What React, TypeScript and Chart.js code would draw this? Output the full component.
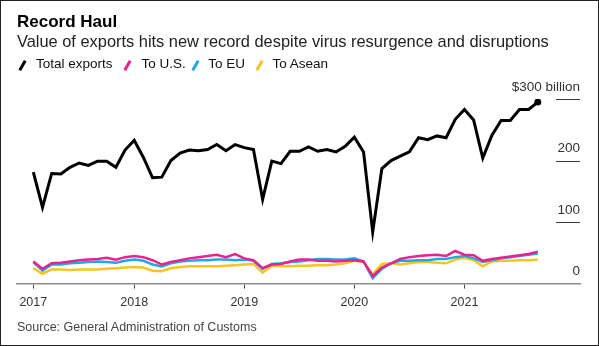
import React, { useEffect, useRef } from 'react';
import { Chart, registerables } from 'chart.js';

Chart.register(...registerables);

// Monthly, Jan 2017 .. Aug 2021 (US$ billion)
const months = [
  '2017-01','2017-02','2017-03','2017-04','2017-05','2017-06','2017-07','2017-08','2017-09','2017-10','2017-11','2017-12',
  '2018-01','2018-02','2018-03','2018-04','2018-05','2018-06','2018-07','2018-08','2018-09','2018-10','2018-11','2018-12',
  '2019-01','2019-02','2019-03','2019-04','2019-05','2019-06','2019-07','2019-08','2019-09','2019-10','2019-11','2019-12',
  '2020-01','2020-02','2020-03','2020-04','2020-05','2020-06','2020-07','2020-08','2020-09','2020-10','2020-11','2020-12',
  '2021-01','2021-02','2021-03','2021-04','2021-05','2021-06','2021-07','2021-08',
];

const totalExports = [
  181, 124, 179, 178, 189, 196, 192, 199, 199, 189, 217, 233,
  205, 172, 173, 200, 212, 217, 216, 218, 226, 216, 226, 221,
  218, 137, 199, 195, 215, 215, 222, 215, 218, 214, 223, 238,
  214, 84, 187, 200, 207, 214, 237, 234, 240, 237, 267, 283,
  266, 204, 241, 265, 265, 283, 283, 295,
];

const toUS = [
  36, 24, 33, 34, 36, 38, 39, 40, 42, 39, 43, 45,
  43, 38, 31, 35, 38, 41, 43, 45, 47, 43, 48, 41,
  38, 25, 31, 32, 36, 39, 39, 37, 37, 36, 37, 38,
  36, 12, 26, 33, 40, 43, 45, 46, 47, 45, 53, 47,
  46, 37, 40, 42, 44, 46, 48, 52,
];

const toEU = [
  35, 21, 31, 31, 33, 34, 35, 36, 35, 34, 37, 39,
  37, 31, 28, 33, 36, 37, 38, 38, 39, 39, 38, 39,
  37, 24, 32, 33, 35, 36, 38, 40, 40, 39, 39, 41,
  36, 9, 24, 33, 37, 37, 38, 38, 40, 40, 43, 45,
  41, 35, 38, 41, 43, 45, 47, 49,
];

const toAsean = [
  25, 16, 23, 23, 22, 23, 23, 23, 24, 25, 26, 27,
  26, 21, 20, 25, 27, 28, 28, 28, 28, 29, 30, 31,
  32, 18, 29, 28, 28, 29, 29, 30, 30, 31, 33, 37,
  35, 15, 32, 33, 31, 33, 35, 35, 34, 33, 39, 42,
  38, 28, 36, 37, 37, 38, 38, 39,
];

const seriesNames = ['Total exports', 'To U.S.', 'To EU', 'To Asean'];
const seriesColors = ['#000000', '#e8238f', '#23a7e3', '#f6c523'];

const xTickIndex = [0, 11, 23, 35, 47];
const xTickLabels = ['2017', '2018', '2019', '2020', '2021'];
const yTickValues = [0, 100, 200, 300];
const yTickLabels = ['0', '100', '200', '$300 billion'];

const FONT = '"Liberation Sans", Arial, Helvetica, sans-serif';

const toPoints = (arr: number[]) => arr.map((v, i) => ({ x: i, y: v }));

const shortGridLines = {
  id: 'shortGridLines',
  afterDraw(chart: any) {
    const y = chart.scales.y;
    const { right } = chart.chartArea;
    const ctx = chart.ctx;
    ctx.save();
    ctx.strokeStyle = '#3a3a3a';
    ctx.lineWidth = 1;
    y.ticks.forEach((t: any) => {
      if (t.value === 0) return;
      const py = Math.round(y.getPixelForValue(t.value)) + 0.5;
      ctx.beginPath();
      ctx.moveTo(right - 24, py);
      ctx.lineTo(right, py);
      ctx.stroke();
    });
    ctx.restore();
  },
};

export default function App() {
  const canvasRef = useRef<HTMLCanvasElement | null>(null);

  useEffect(() => {
    const canvas = canvasRef.current;
    if (!canvas) return;
    const lastIdx = totalExports.length - 1;
    const chart = new Chart(canvas, {
      type: 'line',
      data: {
        labels: months,
        datasets: [
          {
            label: seriesNames[0],
            data: toPoints(totalExports),
            borderColor: seriesColors[0],
            backgroundColor: seriesColors[0],
            borderWidth: 3,
            pointRadius: totalExports.map((_, i) => (i === lastIdx ? 3.5 : 0)),
            pointBackgroundColor: '#000',
            pointBorderWidth: 0,
            tension: 0,
          },
          {
            label: seriesNames[1],
            data: toPoints(toUS),
            borderColor: seriesColors[1],
            borderWidth: 2.5,
            pointRadius: 0,
            tension: 0,
          },
          {
            label: seriesNames[2],
            data: toPoints(toEU),
            borderColor: seriesColors[2],
            borderWidth: 2.5,
            pointRadius: 0,
            tension: 0,
          },
          {
            label: seriesNames[3],
            data: toPoints(toAsean),
            borderColor: seriesColors[3],
            borderWidth: 2.5,
            pointRadius: 0,
            tension: 0,
          },
        ],
      },
      options: {
        responsive: false,
        animation: false,
        events: [],
        layout: { padding: { left: 17, right: 11, top: 99, bottom: 30.4 } },
        plugins: {
          legend: { display: false },
          title: { display: false },
          tooltip: { enabled: false },
        },
        scales: {
          x: {
            type: 'linear',
            min: -1.78,
            max: 59.6,
            afterBuildTicks: (scale: any) => {
              scale.ticks = xTickIndex.map((v) => ({ value: v }));
            },
            grid: {
              drawOnChartArea: false,
              drawTicks: true,
              tickLength: 5,
              color: '#444',
              lineWidth: 1,
            },
            border: { display: true, color: '#8c8c8c', width: 1.5 },
            ticks: {
              autoSkip: false,
              maxRotation: 0,
              padding: 6,
              color: '#333',
              font: { family: FONT, size: 12.5 },
              callback: (value: any) => {
                const k = xTickIndex.indexOf(Number(value));
                return k >= 0 ? xTickLabels[k] : '';
              },
            },
          },
          y: {
            type: 'linear',
            position: 'right',
            min: 0,
            max: 300,
            afterBuildTicks: (scale: any) => {
              scale.ticks = yTickValues.map((v) => ({ value: v }));
            },
            grid: { display: false },
            border: { display: false },
            ticks: {
              mirror: true,
              padding: 0,
              labelOffset: -12,
              color: '#333',
              font: { family: FONT, size: 13.5 },
              callback: (value: any) => {
                const k = yTickValues.indexOf(Number(value));
                return k >= 0 ? yTickLabels[k] : '';
              },
            },
          },
        },
      },
      plugins: [shortGridLines],
    } as any);
    return () => chart.destroy();
  }, []);

  const legendItems = [
    { iconX: 22, textX: 36 },
    { iconX: 127.3, textX: 141.5 },
    { iconX: 195.5, textX: 208.3 },
    { iconX: 259.2, textX: 272.5 },
  ];

  return (
    <div
      style={{
        position: 'fixed',
        left: 0,
        top: 0,
        width: 599,
        height: 346,
        background: '#fff',
        fontFamily: FONT,
        overflow: 'hidden',
      }}
    >
      <canvas
        ref={canvasRef}
        width={599}
        height={346}
        style={{ position: 'absolute', left: 0, top: 0, width: 599, height: 346 }}
      />
      <div
        style={{
          position: 'absolute', left: 17, top: 12.6, fontSize: 17, lineHeight: '17px',
          fontWeight: 'bold', color: '#000', whiteSpace: 'nowrap',
        }}
      >
        Record Haul
      </div>
      <div
        style={{
          position: 'absolute', left: 17, top: 33.1, fontSize: 16.4, lineHeight: '16.4px',
          color: '#222', whiteSpace: 'nowrap',
        }}
      >
        Value of exports hits new record despite virus resurgence and disruptions
      </div>
      {legendItems.map((it, i) => (
        <React.Fragment key={i}>
          <span
            style={{
              position: 'absolute', left: it.iconX - 1.4, top: 59.5, width: 2.8, height: 11,
              background: seriesColors[i], transform: 'rotate(30deg)', display: 'block',
            }}
          />
          <div
            style={{
              position: 'absolute', left: it.textX, top: 56.6, fontSize: 13.5, lineHeight: '13.5px',
              color: '#111', whiteSpace: 'nowrap',
            }}
          >
            {seriesNames[i]}
          </div>
        </React.Fragment>
      ))}
      <div
        style={{
          position: 'absolute', left: 17, top: 320.5, fontSize: 12.5, lineHeight: '12.5px',
          color: '#444', whiteSpace: 'nowrap',
        }}
      >
        Source: General Administration of Customs
      </div>
      <div
        style={{
          position: 'absolute', left: 0, top: 0, width: 599, height: 346,
          border: '1px solid #222', boxSizing: 'border-box', pointerEvents: 'none',
        }}
      />
    </div>
  );
}
